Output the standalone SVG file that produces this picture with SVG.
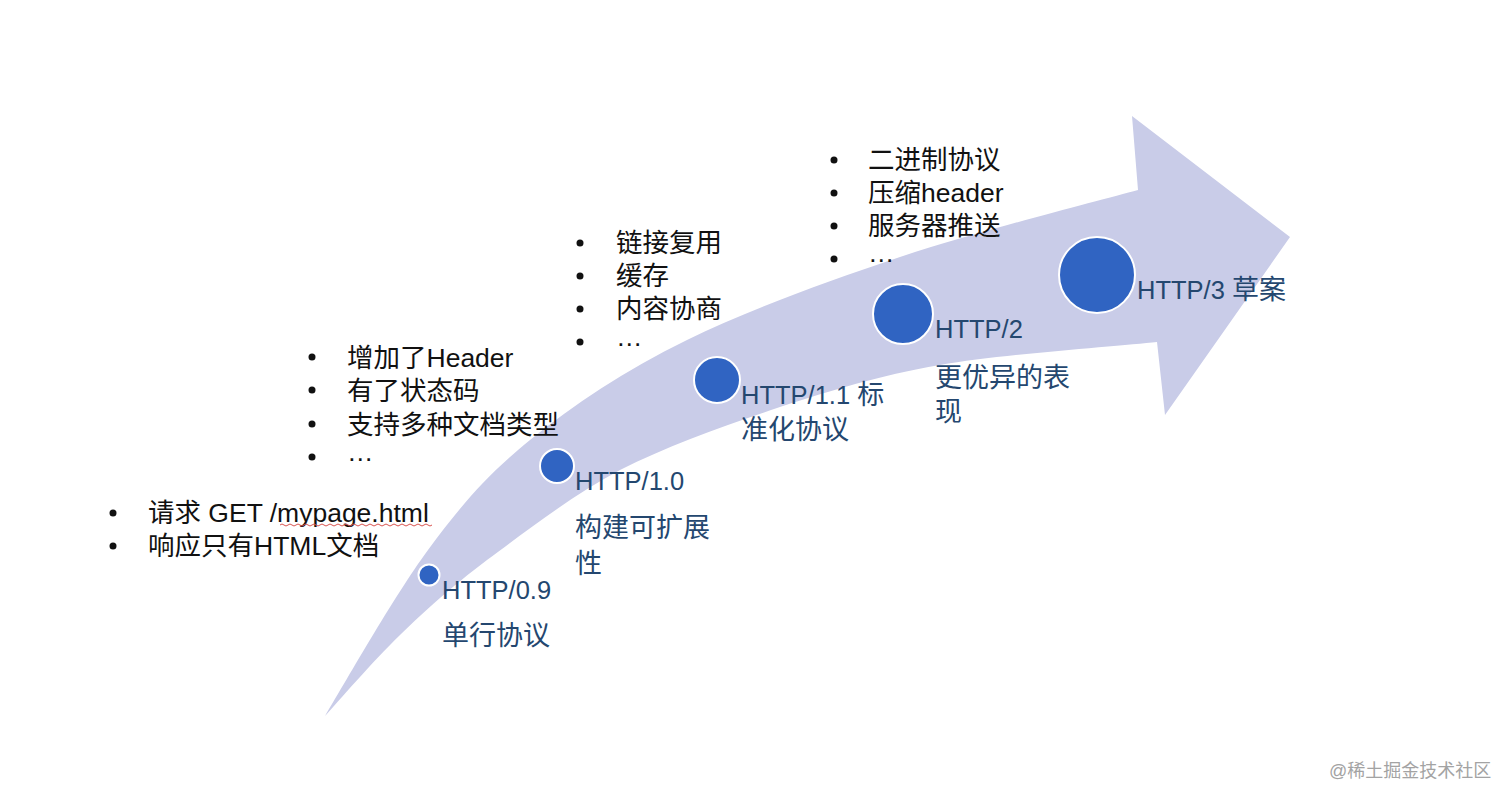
<svg xmlns="http://www.w3.org/2000/svg" width="1512" height="803" viewBox="0 0 1512 803">
<style>
.bg{fill:#ffffff}
.arrow{fill:#c9cce8}
.dot{fill:#3064c2;stroke:#ffffff;stroke-width:2}
.lbl{font-family:"Liberation Sans","Noto Sans CJK SC",sans-serif;font-size:25.5px;fill:#24476f}
.cjk{font-size:27px}
.txt{font-family:"Liberation Sans","Noto Sans CJK SC",sans-serif;font-size:26.5px;fill:#111111}
.bul{fill:#111111}
.wm{font-family:"Liberation Sans","Noto Sans CJK SC",sans-serif;font-size:18px;fill:#a3a3a3}
</style>
<rect class="bg" x="0" y="0" width="1512" height="803"/>
<g id="arrow">
<path class="arrow" d="M325,716 C342,688 394,596 428,550 C462,504 487,475 530,440 C573,405 625,370.5 687,340 C749,310 825,282 900,257 C975,232 1098,201 1138,190 L1132,116 L1290,237 L1165,415 L1157,342 C1121,346 1003,354 940,365 C877,376 833,390 780,407 C727,425 669,445 620,470 C571,496 524,533 487,560 C450,588 427,609 400,635 C373,661 337.5,702.5 325,716 Z"/>
</g>
<g id="node-http09">
<circle class="dot" cx="429" cy="575" r="10.5"/>
<text class="lbl" x="442" y="599">HTTP/0.9</text>
<text class="lbl cjk" x="442" y="645">单行协议</text>
</g>
<g id="node-http10">
<circle class="dot" cx="557" cy="466" r="17"/>
<text class="lbl" x="575" y="490">HTTP/1.0</text>
<text class="lbl cjk" x="575" y="537">构建可扩展</text>
<text class="lbl cjk" x="575" y="573">性</text>
</g>
<g id="node-http11">
<circle class="dot" cx="717" cy="380" r="23"/>
<text class="lbl" x="741" y="404">HTTP/1.1 <tspan class="cjk">标</tspan></text>
<text class="lbl cjk" x="741" y="439">准化协议</text>
</g>
<g id="node-http2">
<circle class="dot" cx="903" cy="314" r="30"/>
<text class="lbl" x="935" y="338">HTTP/2</text>
<text class="lbl cjk" x="935" y="387">更优异的表</text>
<text class="lbl cjk" x="935" y="421">现</text>
</g>
<g id="node-http3">
<circle class="dot" cx="1097" cy="275" r="38"/>
<text class="lbl" x="1137" y="299">HTTP/3 <tspan class="cjk">草案</tspan></text>
</g>
<g id="notes-09">
<circle class="bul" cx="113" cy="513" r="3.5"/>
<circle class="bul" cx="113" cy="546" r="3.5"/>
<text class="txt" x="148" y="522">请求 GET /mypage.html</text>
<text class="txt" x="148" y="555">响应只有HTML文档</text>
<path d="M280,525 q2,-2 4,0 t4,0 t4,0 t4,0 t4,0 t4,0 t4,0 t4,0 t4,0 t4,0 t4,0 t4,0 t4,0 t4,0 t4,0 t4,0 t4,0 t4,0 t4,0 t4,0 t4,0 t4,0 t4,0 t4,0 t4,0 t4,0 t4,0 t4,0 t4,0 t4,0 t4,0 t4,0 t4,0 t4,0 t4,0 t4,0 t4,0 t4,0" fill="none" stroke="#d9534f" stroke-width="1"/>
</g>
<g id="notes-10">
<circle class="bul" cx="312" cy="357" r="3.5"/>
<circle class="bul" cx="312" cy="390" r="3.5"/>
<circle class="bul" cx="312" cy="424" r="3.5"/>
<circle class="bul" cx="312" cy="457" r="3.5"/>
<text class="txt" x="347" y="367">增加了Header</text>
<text class="txt" x="347" y="400">有了状态码</text>
<text class="txt" x="347" y="434">支持多种文档类型</text>
<text class="txt" x="347" y="461">…</text>
</g>
<g id="notes-11">
<circle class="bul" cx="580" cy="243" r="3.5"/>
<circle class="bul" cx="580" cy="276" r="3.5"/>
<circle class="bul" cx="580" cy="309" r="3.5"/>
<circle class="bul" cx="580" cy="342" r="3.5"/>
<text class="txt" x="616" y="252">链接复用</text>
<text class="txt" x="616" y="285">缓存</text>
<text class="txt" x="616" y="318">内容协商</text>
<text class="txt" x="616" y="346">…</text>
</g>
<g id="notes-2">
<circle class="bul" cx="834" cy="160" r="3.5"/>
<circle class="bul" cx="834" cy="193" r="3.5"/>
<circle class="bul" cx="834" cy="226" r="3.5"/>
<circle class="bul" cx="834" cy="259" r="3.5"/>
<text class="txt" x="868" y="169">二进制协议</text>
<text class="txt" x="868" y="202">压缩header</text>
<text class="txt" x="868" y="235">服务器推送</text>
<text class="txt" x="868" y="262">…</text>
</g>
<text class="wm" x="1329" y="777">@稀土掘金技术社区</text>
</svg>
